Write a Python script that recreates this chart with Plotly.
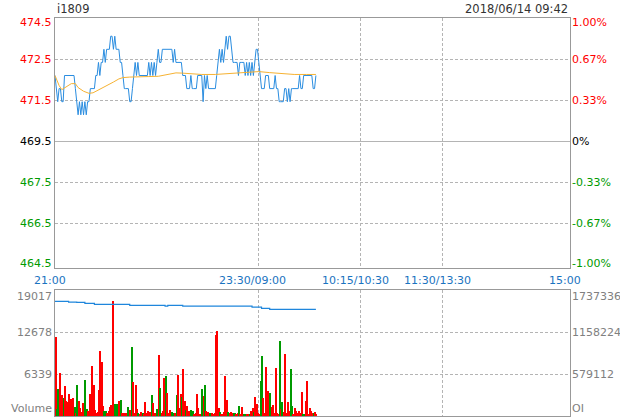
import plotly.graph_objects as go

# ---------------- data ----------------
symbol = "i1809"
stamp = "2018/06/14 09:42"
prev_close = 469.5

time_labels = ["21:00", "23:30/09:00", "10:15/10:30", "11:30/13:30", "15:00"]
time_pos = [0, 150, 225, 285, 375]
session_breaks = [150, 225, 285]
n_slots = 379

price_labels = ["474.5", "472.5", "471.5", "469.5", "467.5", "466.5", "464.5"]
pct_labels = ["1.00%", "0.67%", "0.33%", "0%", "-0.33%", "-0.67%", "-1.00%"]
pct_steps = [1.0, 2 / 3, 1 / 3, 0.0, -1 / 3, -2 / 3, -1.0]

price = [
    472.0, 471.5, 471.0, 471.5, 471.5, 471.0, 471.0,
    472.0, 472.0, 472.0, 472.0, 472.0, 472.0, 472.0, 472.0,
    471.5, 471.0, 470.5, 471.0, 470.5, 471.0, 470.5, 471.0, 470.5, 471.0, 471.0,
    471.5, 471.5, 471.5, 471.5,
    472.0, 472.0, 472.5, 472.0, 472.5, 472.5, 473.0, 472.5, 473.0, 473.0, 473.0,
    473.5, 473.5, 473.0, 473.5, 473.0, 473.0, 473.0, 472.5, 472.5, 472.0,
    471.5, 471.5, 471.5, 471.5, 471.0, 471.0, 471.5, 472.0, 472.5, 472.0, 472.5,
    472.0, 472.0, 472.0, 472.0, 472.0, 472.0, 472.0,
    472.5, 472.0, 472.5, 472.0, 472.5, 472.0, 472.5, 473.0, 472.5, 472.5, 473.0,
    473.0, 473.0, 473.0, 473.0, 473.0, 473.0, 473.0,
    472.5, 473.0, 472.5, 472.5, 472.5, 472.5, 472.5,
    472.0, 472.0, 472.0, 471.5, 471.5, 471.5, 472.0,
    471.5, 471.5, 471.5, 471.5, 472.0, 472.0, 472.0, 472.0,
    471.0, 472.0, 471.5, 472.0, 471.5, 471.5, 471.5, 471.5, 471.5, 471.5,
    472.0, 472.5, 473.0, 472.5, 473.0, 472.5, 473.0, 473.5, 473.0, 473.5, 473.5, 473.0,
    472.5, 472.5, 472.5, 472.5, 472.0, 472.5, 472.5, 472.5, 472.5,
    472.0, 472.5, 472.0, 472.5, 472.0, 472.5, 472.0, 472.5, 473.0, 473.0, 472.5, 472.0,
    471.5, 471.5, 471.5, 472.0, 472.0, 472.0, 471.5, 471.5, 471.5, 471.5,
    472.0, 471.5, 471.5, 471.0, 471.0, 471.0, 471.0, 471.5, 471.5, 471.0, 471.5, 471.0,
    471.5, 471.5, 471.5, 471.5, 471.5, 471.5,
    472.0, 471.5, 471.5, 472.0, 472.0, 472.0, 472.0, 472.0, 472.0, 472.0,
    471.5, 471.5, 472.0,
]

avg_x = [0, 3, 5, 9, 12, 15, 17, 21, 25, 28, 33, 38, 43, 47, 50, 55, 65, 69, 76,
         81, 86, 89, 94, 98, 108, 118, 124, 128, 141, 150, 158, 168, 176, 185, 192]
avg_price = [472.0, 471.62, 471.46, 471.59, 471.69, 471.69, 471.54, 471.40, 471.32,
             471.34, 471.47, 471.59, 471.75, 471.87, 471.92, 471.94, 471.94, 471.96,
             471.97, 472.02, 472.07, 472.10, 472.09, 472.07, 472.04, 472.04, 472.06,
             472.09, 472.14, 472.15, 472.11, 472.07, 472.04, 472.04, 472.04]

volume = [
    11945, 1008, 4032, 6401, 2520, 3125, 2722, 4486, 2218, 2016,
    3276, 2520, 1764, 2722, 1361, 403, 4637, 2218, 1210, 605,
    1865, 605, 5393, 1008, 756, 3276, 2520, 7510, 4637, 857,
    353, 504, 3881, 9778, 8165, 1462, 706, 706, 353, 756,
    1361, 1613, 17388, 1109, 1764, 1764, 857, 2268, 2369, 403,
    454, 454, 454, 1260, 454, 857, 10433, 5141, 454, 4637,
    958, 353, 252, 605, 353, 252,
    2117, 420, 706, 554, 605, 3125, 1865, 353, 252, 1008,
    9173, 4234, 353, 756, 5645, 5998, 3377, 403, 857, 353,
    554, 454, 454, 3125, 6149, 1159, 3276, 2873, 7056, 2218,
    857, 1462, 655, 252, 857, 706, 252, 454, 3276, 1210,
    252, 252, 4032, 2974, 4637, 756, 554, 252, 454, 353,
    252, 353, 12197, 12852, 1210, 504, 252, 252, 554, 5998,
    2369, 554, 353,
    554, 353, 353, 353, 252, 353, 1462, 202, 1260, 252,
    252, 252, 252, 252, 252, 756, 1210, 554, 2873, 1714,
    403, 252, 5242, 9072, 2722, 454, 7409, 3730, 3125, 3377,
    1260, 1613, 353, 7258, 454, 202, 11290, 1058, 2117, 554,
    9374, 353, 2016, 756, 7106, 1462, 252, 1109, 706, 353,
    655, 353, 3629, 252, 252, 2218, 5242, 252, 1210, 756,
    403, 353, 605, 252,
]
# R = up minute (red), G = down minute (green)
volume_dir = (
    "RGGRRRGRRR" "RRRRGRGRRR" "RRGGRRRRRR" "RRRRRRGGRR" "RRRRGGGRGR" "RRRGGRGRRR" "RGRRGR"
    "RRRRRGRRRG" "RGRRRGRRRR" "GGRGRRRGRR" "GRRRGGRRRR" "RRGRGRRRGR" "RRRRRGRRRR" "RGR"
    "RRGGRRGRRR" "GGRRGRRGRR" "RRGGRRRRRG" "RRRRRRGRGR" "RRRRGGRRRR" "RRRGGRRRRR" "RGRR"
)

oi_x = [0, 10, 16, 22, 29, 55, 81, 83, 94, 145, 152, 158, 192]
oi = [1585000, 1575000, 1571000, 1557000, 1544000, 1530000, 1518000, 1530000,
      1518000, 1506000, 1489000, 1475000, 1475000]

vol_ticks = [19017, 12678, 6339, 0]
vol_labels = ["19017", "12678", "6339", "Volume"]
oi_ticks = [1737336, 1158224, 579112, 0]
oi_labels = ["1737336", "1158224", "579112", "OI"]

# ---------------- styling ----------------
FONT = "DejaVu Sans"
RED, GREEN, BLACK, GRAY = "#ff0000", "#009a00", "#000000", "#808080"
BLUE_LINE, ORANGE = "#2a8de0", "#f6b232"
AXIS_C, GRID_C = "#999999", "#b4b4b4"
DASH = "3px,2px"

idx = list(range(len(price)))
hi = prev_close * 1.01
unit_per_px = (prev_close * 0.02) / 246
lo = prev_close * 0.99 - 4 * unit_per_px
pct_lo = -1 - 4 * (2 / 246)
tick_prices = [prev_close * (1 + s / 100) for s in pct_steps]

fig = go.Figure()
fig.add_trace(go.Scatter(x=idx, y=price, mode="lines", line=dict(color=BLUE_LINE, width=1),
                         xaxis="x", yaxis="y", hoverinfo="skip", showlegend=False))
fig.add_trace(go.Scatter(x=avg_x, y=avg_price, mode="lines", line=dict(color=ORANGE, width=1),
                         xaxis="x", yaxis="y", hoverinfo="skip", showlegend=False))
fig.add_trace(go.Scatter(x=idx, y=[(p / prev_close - 1) * 100 for p in price], mode="lines",
                         line=dict(width=0), opacity=0, xaxis="x", yaxis="y2",
                         hoverinfo="skip", showlegend=False))
fig.add_trace(go.Bar(x=list(range(len(volume))), y=volume, width=0.75, offset=0.05,
                     marker=dict(color=[RED if d == "R" else GREEN for d in volume_dir], line=dict(width=0)),
                     xaxis="x2", yaxis="y3", hoverinfo="skip", showlegend=False))
fig.add_trace(go.Scatter(x=oi_x, y=oi, mode="lines", line=dict(color="#1f86dc", width=1.2, shape="hv"),
                         xaxis="x2", yaxis="y4", hoverinfo="skip", showlegend=False))

xcommon = dict(range=[0, n_slots], tickvals=session_breaks, showticklabels=False, ticks="",
               showgrid=True, gridcolor=GRID_C, griddash=DASH, gridwidth=1,
               showline=True, linecolor=AXIS_C, linewidth=1, mirror=True, zeroline=False,
               fixedrange=True)

inner_prices = [tick_prices[1], tick_prices[2], tick_prices[4], tick_prices[5]]

fig.update_layout(
    width=620, height=420,
    margin=dict(l=55, r=50, t=18, b=4),
    paper_bgcolor="white", plot_bgcolor="white",
    bargap=0,
    xaxis=dict(domain=[0, 1], anchor="y", **xcommon),
    xaxis2=dict(domain=[0, 1], anchor="y3", **xcommon),
    yaxis=dict(domain=[0.37186, 1], anchor="x", range=[lo, hi], tickvals=inner_prices,
               showticklabels=False, ticks="", showgrid=True, gridcolor=GRID_C, griddash=DASH,
               showline=True, linecolor=AXIS_C, linewidth=1, mirror=True, zeroline=False,
               fixedrange=True),
    yaxis2=dict(overlaying="y", anchor="x", side="right", range=[pct_lo, 1], showgrid=False,
                showticklabels=False, ticks="", zeroline=True, zerolinecolor=GRID_C,
                zerolinewidth=1, showline=False, fixedrange=True),
    yaxis3=dict(domain=[0, 0.3158], anchor="x2", range=[0, vol_ticks[0]], tickvals=vol_ticks[1:3],
                showticklabels=False, ticks="", showgrid=True, gridcolor=GRID_C, griddash=DASH,
                showline=True, linecolor=AXIS_C, linewidth=1, mirror=True, zeroline=False,
                fixedrange=True),
    yaxis4=dict(overlaying="y3", anchor="x2", side="right", range=[0, oi_ticks[0]],
                showgrid=False, showticklabels=False, ticks="", zeroline=False,
                showline=False, fixedrange=True),
    font=dict(family=FONT, size=11),
)

ann = []
label_colors = [RED, RED, RED, BLACK, GREEN, GREEN, GREEN]
edge_shift = [-4, 0, 0, 0, 0, 0, 1]
for v, t, pt, c, s in zip(tick_prices, price_labels, pct_labels, label_colors, edge_shift):
    ann.append(dict(xref="paper", x=0, xanchor="right", xshift=-1, yref="y", y=v, yanchor="middle",
                    yshift=s, text=t, showarrow=False, font=dict(family=FONT, size=11, color=c)))
    ann.append(dict(xref="paper", x=1, xanchor="left", xshift=0, yref="y", y=v, yanchor="middle",
                    yshift=s, text=pt, showarrow=False, font=dict(family=FONT, size=11, color=c)))

vol_shift = [-6, 0, 0, 8]
for v, t, s in zip(vol_ticks, vol_labels, vol_shift):
    ann.append(dict(xref="paper", x=0, xanchor="right", xshift=-1, yref="y3", y=v, yanchor="middle",
                    yshift=s, text=t, showarrow=False, font=dict(family=FONT, size=11, color=GRAY)))
for v, t, s in zip(oi_ticks, oi_labels, vol_shift):
    ann.append(dict(xref="paper", x=1, xanchor="left", xshift=0, yref="y4", y=v, yanchor="middle",
                    yshift=s, text=t, showarrow=False, font=dict(family=FONT, size=11, color=GRAY)))

time_shift = [-5, -6, -5, -5, 0]
for v, t, s in zip(time_pos, time_labels, time_shift):
    ann.append(dict(xref="x", x=v, xanchor="center", xshift=s, yref="paper", y=0.3392,
                    yanchor="middle", text=t, showarrow=False,
                    font=dict(family=FONT, size=11, color="#1a73c0")))

ann.append(dict(xref="paper", x=0, xanchor="left", yref="paper", y=1.0226, yanchor="middle",
                text=symbol, showarrow=False, font=dict(family=FONT, size=11.5, color="#333333")))
ann.append(dict(xref="paper", x=1, xanchor="right", yref="paper", y=1.0226, yanchor="middle",
                text=stamp, showarrow=False, font=dict(family=FONT, size=11.5, color="#333333")))

fig.update_layout(annotations=ann)
fig.write_html("out.html", config={"displayModeBar": False},
               post_script="document.body.style.margin='0px';document.body.style.overflow='hidden';")
